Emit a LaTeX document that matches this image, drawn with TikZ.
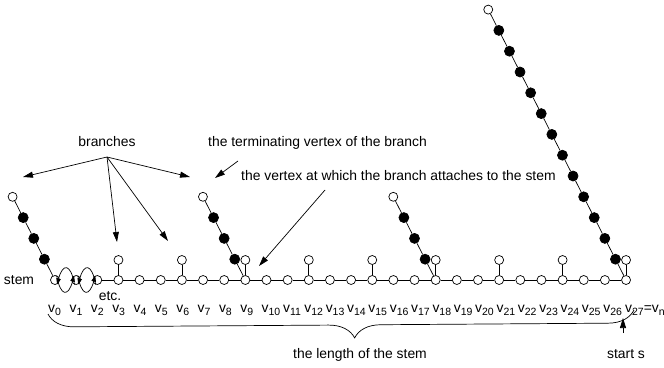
\documentclass[tikz,border=0pt]{standalone}
\usepackage{fontspec}
\setmainfont{Liberation Sans}
\usetikzlibrary{arrows.meta,decorations.pathreplacing}
\newcommand{\vsub}[1]{\raisebox{-3.5pt}{\fontsize{10.5}{12}\selectfont #1}}
\begin{document}
\begin{tikzpicture}[x=1pt,y=-1pt,
  wv/.style={circle,draw,fill=white,inner sep=0pt,minimum size=9pt,line width=0.7pt},
  bv/.style={circle,draw,fill=black,inner sep=0pt,minimum size=10pt,line width=0.7pt},
  edge/.style={line width=0.7pt},
  arr/.style={-{Triangle[length=10pt,width=6pt]},line width=0.7pt},
  sarr/.style={-{Triangle[length=6pt,width=4.5pt]},line width=0.7pt},
  txt/.style={font=\fontsize{13.9}{16}\selectfont,inner sep=0pt},
]
\useasboundingbox (0,0) rectangle (664,367);
% stem vertices
\foreach \i in {0,...,27} \node[wv] (v\i) at ({55+21.15*\i},280) {};
\foreach \i [evaluate=\i as \j using int(\i+1)] in {2,...,26} \draw[edge] (v\i) -- (v\j);
% short pendants
\foreach \i in {3,6,...,27} {
  \node[wv] (p\i) at ({55+21.15*\i},260) {};
  \draw[edge] (v\i) -- (p\i);
}
% long branches
\foreach \k/\n in {0/3,9/3,18/3,27/12} {
  \foreach \m in {1,...,\n} \node[bv] (b\k-\m) at ({55+21.15*\k-10.6*\m},{280-20.8*\m}) {};
  \pgfmathtruncatemacro{\t}{\n+1}
  \node[wv] (t\k) at ({55+21.15*\k-10.6*\t},{280-20.8*\t}) {};
  \draw[edge] (v\k) -- (b\k-1);
  \foreach \m [evaluate=\m as \mm using int(\m+1)] in {1,...,\n} {
    \ifnum\m<\n \draw[edge] (b\k-\m) -- (b\k-\mm); \fi
  }
  \draw[edge] (b\k-\n) -- (t\k);
}
% swap arrows
\draw[sarr] (v0.70) .. controls +(80:22) and +(105:22) .. (v1.115);
\draw[sarr] (v1.-110) .. controls +(-100:22) and +(-75:22) .. (v0.-65);
\draw[sarr] (v1.70) .. controls +(80:22) and +(105:22) .. (v2.115);
\draw[sarr] (v2.-110) .. controls +(-100:22) and +(-75:22) .. (v1.-65);
\node[txt,anchor=base] (etc) at (110,300) {etc.};
\node[txt,anchor=base] (stem) at (19,284) {stem};
% labels
\foreach \i in {0,...,26}
  \node[txt,anchor=base west] (l\i) at ({48+21.35*\i},312) {v\vsub{\i}};
\node[txt,anchor=base west] (l27) at (625,312) {v\vsub{27}=v\vsub{n}\raisebox{-1.5pt}{\fontsize{10.5}{12}\selectfont r}};
% brace
\draw[edge,decorate,decoration={brace,mirror,amplitude=26pt,aspect=0.523}] (48,314) -- (634,310);
\node[txt,anchor=base] (len) at (360,358) {the length of the stem};
\node[txt,anchor=base] (start) at (626,358) {start s};
\draw[arr] (623,333) -- (623,318);
% top labels
\node[txt,anchor=base] (br) at (107,146) {branches};
\coordinate (bo) at (107,157);
\draw[arr] (bo) -- (23,177);
\draw[arr] (bo) -- (117,242);
\draw[arr] (bo) -- (168,241);
\draw[arr] (bo) -- (190,177);
\node[txt,anchor=base west] (term) at (208,146) {the terminating vertex of the branch};
\draw[arr] (238,161) -- (215,178);
\node[txt,anchor=base west] (att) at (241,180) {the vertex at which the branch attaches to the stem};
\draw[arr] (325,190) -- (259,266);
\end{tikzpicture}
\end{document}
